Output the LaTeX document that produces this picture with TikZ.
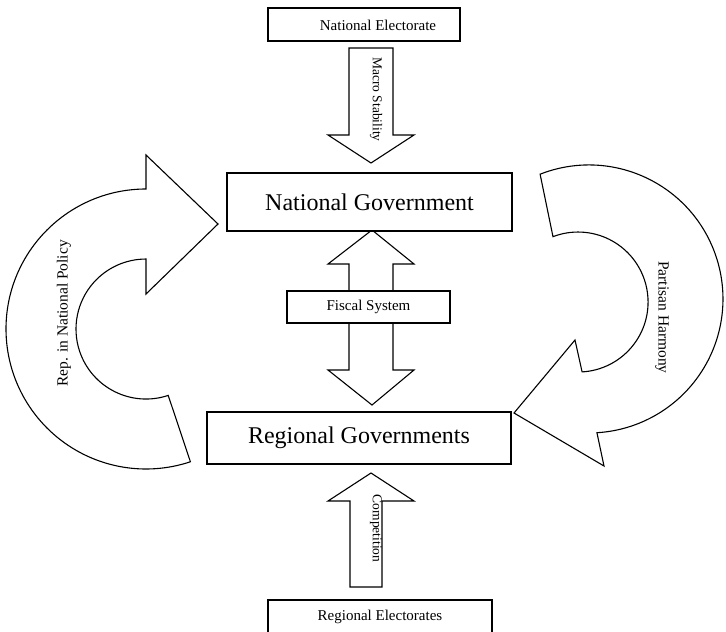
\documentclass[tikz,border=0pt]{standalone}
\usepackage{fontspec}
\setmainfont{Liberation Serif}
\begin{document}
\begin{tikzpicture}[x=1pt,y=-1pt,
  line width=1.1pt, line join=miter,
  shapeline/.style={draw, fill=white, line width=1.1pt},
  box/.style={draw, fill=white, line width=1.1pt, inner sep=0pt},
  lbl/.style={inner sep=0pt, font=\fontsize{15}{18}\selectfont},
  biglbl/.style={font=\fontsize{24}{28}\selectfont},
  vlbl/.style={inner sep=0pt, font=\fontsize{13.5}{16}\selectfont},
  clbl/.style={inner sep=0pt, font=\fontsize{15.5}{18}\selectfont}]
\useasboundingbox (0,0) rectangle (726,632);
\clip (0,0) rectangle (726,632);

% left curved arrow (Rep. in National Policy)
\draw[shapeline] (146,189) arc[start angle=270, end angle=71.5, radius=140]
  -- (168.2,395.4) arc[start angle=71.5, end angle=270, radius=70]
  -- (146,294) -- (218,224) -- (146,155) -- cycle;

% right curved arrow (Partisan Harmony)
\draw[shapeline] (540.1,174.2) arc[start angle=-111.4, end angle=86.6, radius=134]
  -- (604,466) -- (514,413) -- (575,340)
  -- (582.1,371.9) arc[start angle=86.7, end angle=-111, radius=70]
  -- cycle;

% Macro Stability arrow
\draw[shapeline] (349,48) -- (393,48) -- (393,135) -- (414,135) -- (371,163)
  -- (328,135) -- (349,135) -- cycle;

% Fiscal double arrow
\draw[shapeline] (372,230) -- (414,264) -- (393,264) -- (393,370) -- (414,370)
  -- (372,405) -- (328,370) -- (349,370) -- (349,264) -- (328,264) -- cycle;

% Competition arrow
\draw[shapeline] (371,473) -- (414,501) -- (382,501) -- (382,587) -- (350,587)
  -- (350,501) -- (328,501) -- cycle;

% boxes
\node[box, minimum width=192pt, minimum height=33pt] (ne) at (364,24.5) {};
\node[lbl] (netext) at (378,25) {National Electorate};
\node[box, biglbl, minimum width=285pt, minimum height=58pt] (ng) at (369.5,202) {National Government};
\node[box, lbl, minimum width=163pt, minimum height=32pt] (fs) at (368.5,307) {Fiscal System};
\node[box, biglbl, minimum width=304pt, minimum height=52pt] (rg) at (359,438) {Regional Governments};
\node[box, lbl, minimum width=224pt, minimum height=34pt] (re) at (380,617) {Regional Electorates};

% rotated labels
\node[vlbl, rotate=-90] (macro) at (376,99.5) {Macro Stability};
\node[vlbl, rotate=-90] (comp) at (376,528.5) {Competition};
\node[clbl, rotate=90] (rep) at (64,313.5) {Rep. in National Policy};
\node[clbl, rotate=-90] (part) at (662,317.5) {Partisan Harmony};
\end{tikzpicture}
\end{document}
